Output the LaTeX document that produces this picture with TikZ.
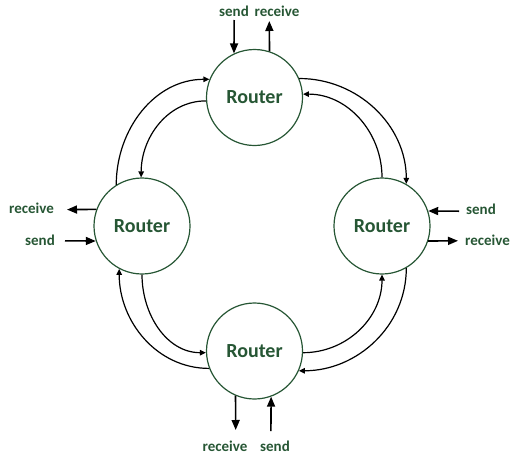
\documentclass[tikz,border=0pt]{standalone}
\usepackage{fontspec}
\setmainfont{Carlito}
\usepackage{xcolor}
\usepackage{tikz}
\usetikzlibrary{arrows.meta, positioning}
\definecolor{routergreen}{RGB}{38,86,52}

\begin{document}
\begin{tikzpicture}[x=1pt, y=1pt,
            router/.style={draw=routergreen, circle, line width=1.2pt, minimum size=96pt, inner sep=0pt,
                text=routergreen, font=\fontsize{20}{24}\selectfont\bfseries},
            lbl/.style={anchor=base, inner sep=0pt, text=routergreen, font=\fontsize{15}{18}\selectfont\bfseries},
            link/.style={line width=1.2pt, -{Triangle[length=6pt, width=5.5pt]}},
            io/.style={line width=1.6pt, -{Triangle[length=10pt, width=8pt]}}]
            \useasboundingbox (0,0) rectangle (511,-458);

            \node[router] (top) at (254.5,-97.5) {Router};
            \node[router] (left) at (142,-226) {Router};
            \node[router] (right) at (382,-226) {Router};
            \node[router] (bottom) at (254.5,-351) {Router};

            % ring links
            \draw[link] (left.122) to[out=90, in=180] (top.158);
            \draw[link] (top.184) to[out=180, in=90] (left.91);
            \draw[link] (top.23) to[out=0, in=90] (right.60);
            \draw[link] (right.90) to[out=90, in=0] (top.4);
            \draw[link] (right.300) to[out=270, in=0] (bottom.336);
            \draw[link] (bottom.358) to[out=0, in=270] (right.270);
            \draw[link] (bottom.201) to[out=180, in=270] (left.242);
            \draw[link] (left.270) to[out=270, in=180] (bottom.182);

            % send / receive ends
            \coordinate (topsend) at (234.2,-20);
            \coordinate (toprecv) at (269.3,-21);
            \coordinate (leftrecv) at (67,-209.6);
            \coordinate (leftsend) at (65,-240.8);
            \coordinate (rightsend) at (459,-211.2);
            \coordinate (rightrecv) at (458,-240.8);
            \coordinate (bottomrecv) at (235.7,-430);
            \coordinate (bottomsend) at (270.9,-431);

            \draw[io] (topsend) -- (top.115);
            \draw[io] (top.72) -- (toprecv);
            \draw[io] (left.160) -- (leftrecv);
            \draw[io] (leftsend) -- (left.198);
            \draw[io] (rightsend) -- (right.18);
            \draw[io] (right.342) -- (rightrecv);
            \draw[io] (bottom.247) -- (bottomrecv);
            \draw[io] (bottomsend) -- (bottom.290);

            \node[lbl] (topsendlbl) at (234,-16) {send};
            \node[lbl] (toprecvlbl) at (277,-16) {receive};
            \node[lbl] (leftrecvlbl) at (31.5,-213.5) {receive};
            \node[lbl] (leftsendlbl) at (40,-245) {send};
            \node[lbl] (rightsendlbl) at (481,-214) {send};
            \node[lbl] (rightrecvlbl) at (487.5,-245.5) {receive};
            \node[lbl] (bottomrecvlbl) at (225,-451) {receive};
            \node[lbl] (bottomsendlbl) at (275,-451) {send};
        \end{tikzpicture}
\end{document}
